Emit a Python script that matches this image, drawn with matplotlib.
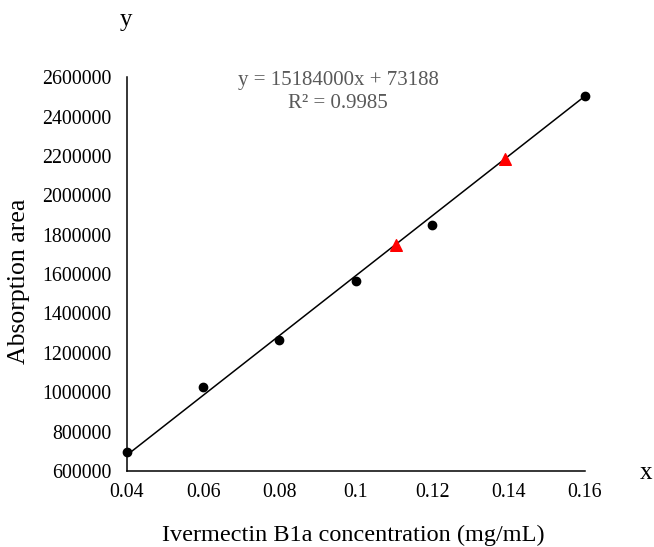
import matplotlib
matplotlib.use("Agg")
import matplotlib.pyplot as plt
import numpy as np

# Data
std_x = [0.04, 0.06, 0.08, 0.10, 0.12, 0.16]
std_y = [698000, 1024000, 1265000, 1567000, 1848000, 2504000]
sample_x = [0.1105, 0.139]
sample_y = [1750000, 2182000]
slope = 15184000
intercept = 73188
eq_text = "y = 15184000x + 73188\nR\u00b2 = 0.9985"

plt.rcParams['font.family'] = ['Liberation Serif', 'DejaVu Serif']

fig = plt.figure(figsize=(6.54, 5.47), dpi=100)
ax = fig.add_axes([0.194, 0.139, 0.70, 0.720])

fit_x = np.array([min(std_x), max(std_x)])
ax.plot(fit_x, slope * fit_x + intercept, color='black', linewidth=1.1, zorder=2)
ax.scatter(std_x, std_y, color='black', s=36, zorder=3, clip_on=False)
ax.scatter(sample_x, sample_y, color='#ff0000', marker='^', s=70, zorder=3, clip_on=False)

ax.set_xlim(0.04, 0.16)
ax.set_ylim(600000, 2600000)
ax.set_xticks([0.04, 0.06, 0.08, 0.10, 0.12, 0.14, 0.16])
ax.set_xticklabels(["0.04", "0.06", "0.08", "0.1", "0.12", "0.14", "0.16"])
ax.set_yticks(np.arange(600000, 2600001, 200000))
ax.set_yticklabels([str(v) for v in range(600000, 2600001, 200000)])
ax.tick_params(length=0, labelsize=14.3)
ax.tick_params(axis='y', pad=11)
ax.tick_params(axis='x', pad=9)

ax.spines['top'].set_visible(False)
ax.spines['right'].set_visible(False)
ax.spines['left'].set_linewidth(1.1)
ax.spines['bottom'].set_linewidth(1.1)

fig.text(353 / 654, 1 - 535 / 547, "Ivermectin B1a concentration (mg/mL)",
         ha='center', va='center', fontsize=17.5)
fig.text(19 / 654, 1 - 281 / 547, "Absorption area", rotation=90,
         ha='center', va='center', fontsize=18.5)

fig.text(338 / 654, 1 - 92 / 547, eq_text, ha='center', va='center',
         fontsize=15, color='#595959', linespacing=1.25)
fig.text(126 / 654, 1 - 20 / 547, "y", ha='center', va='center', fontsize=18)
fig.text(646 / 654, 1 - 473 / 547, "x", ha='center', va='center', fontsize=18)

fig.savefig("out.png", dpi=100)
